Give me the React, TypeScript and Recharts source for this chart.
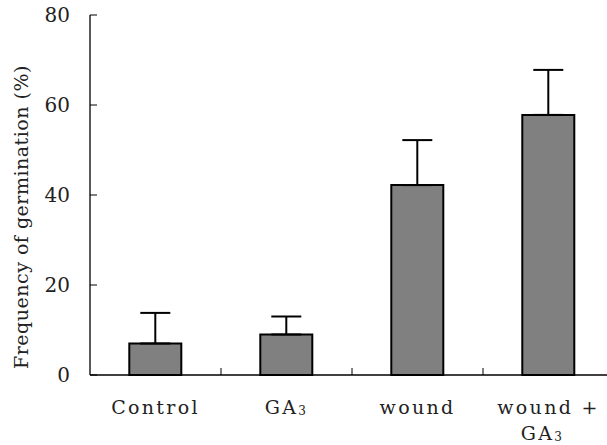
import { Bar, BarChart, ErrorBar, XAxis, YAxis } from "recharts";

const categories = ["Control", "GA3", "wound", "wound + GA3"];
const germination = [7, 9, 42.2, 57.8];
const errors = [6.8, 4, 10, 10];
const yTicks = [0, 20, 40, 60, 80];

const data = categories.map((name, i) => ({
  name,
  value: germination[i],
  err: [0, errors[i]],
}));

const FONT = "DejaVu Serif";

// draws GA3 with a subscript 3
function Label3({ text, x, y }: { text: string; x: number; y: number }) {
  const parts = text.split("GA3");
  return (
    <text x={x} y={y} textAnchor="middle" fontFamily={FONT} fontSize={19} letterSpacing={2.3} fill="#222">
      {parts[0]}
      {parts.length > 1 && (
        <>
          GA
          <tspan fontSize={12} dy={1}>
            3
          </tspan>
        </>
      )}
    </text>
  );
}

function CategoryTick(props: any) {
  const { x, y, payload, index } = props;
  const axisY = y - 39;
  const boundary = payload.coordinate + payload.offset;
  const label = payload.value as string;
  return (
    <g>
      {index < categories.length - 1 && (
        <line x1={boundary} x2={boundary} y1={axisY} y2={axisY - 7} stroke="#000" strokeWidth={1} />
      )}
      {label === "wound + GA3" ? (
        <>
          <Label3 text="wound +" x={x} y={y} />
          <Label3 text="GA3" x={x - 6} y={y + 26} />
        </>
      ) : (
        <Label3 text={label} x={x} y={y} />
      )}
    </g>
  );
}

function YLabel() {
  return (
    <text
      x={0}
      y={0}
      transform="translate(28, 217) rotate(-90)"
      textAnchor="middle"
      fontFamily={FONT}
      fontSize={19}
      letterSpacing={0.5}
      fill="#222"
    >
      Frequency of germination (%)
    </text>
  );
}

export default function App() {
  return (
    <div style={{ position: "fixed", left: 0, top: 0, width: 607, height: 445, overflow: "hidden", background: "#fff" }}>
      <BarChart
        width={614}
        height={445}
        data={data}
        margin={{ top: 15, right: 0, left: 0, bottom: 0 }}
        barCategoryGap="30%"
      >
        <XAxis
          dataKey="name"
          height={70}
          tickLine={false}
          tickSize={0}
          tickMargin={39}
          axisLine={{ stroke: "#000", strokeWidth: 1.3 }}
          tick={<CategoryTick />}
          interval={0}
        />
        <YAxis
          width={90}
          domain={[0, 80]}
          ticks={yTicks}
          tickSize={-7}
          tickMargin={27}
          axisLine={{ stroke: "#000", strokeWidth: 1.3 }}
          tickLine={{ stroke: "#000", strokeWidth: 1 }}
          tick={{ fontFamily: FONT, fontSize: 20, fill: "#222" }}
          label={<YLabel />}
        />
        <Bar dataKey="value" fill="#808080" stroke="#000" strokeWidth={2} isAnimationActive={false}>
          <ErrorBar dataKey="err" width={15} stroke="#000" strokeWidth={2} direction="y" />
        </Bar>
      </BarChart>
    </div>
  );
}
